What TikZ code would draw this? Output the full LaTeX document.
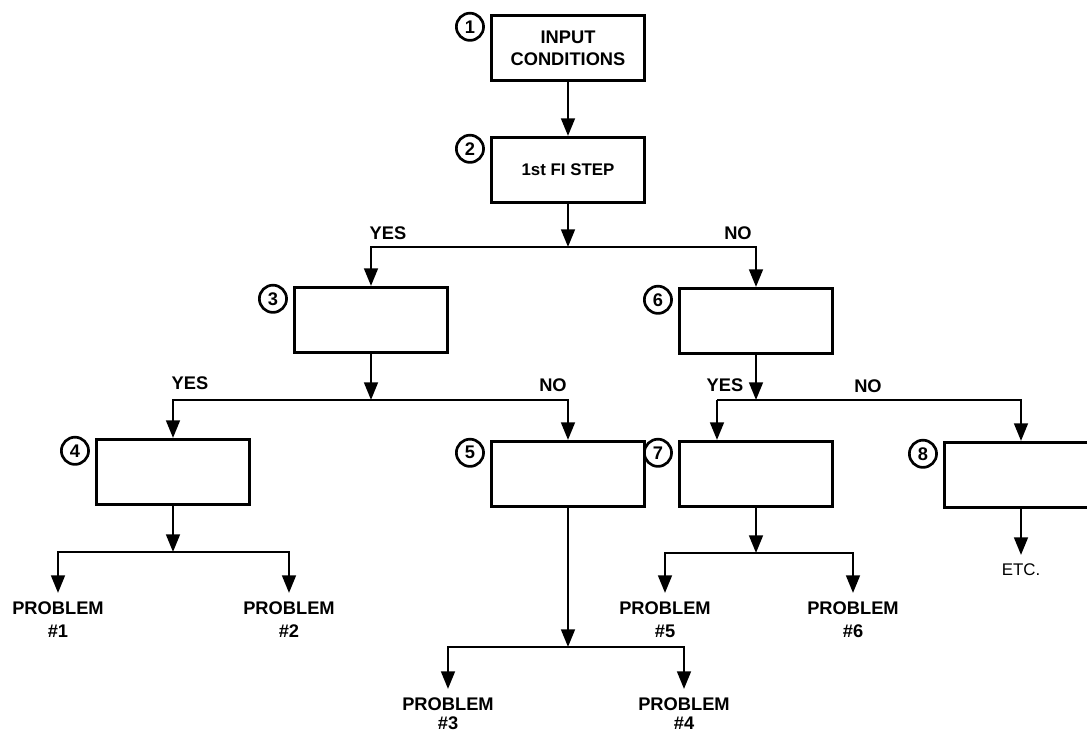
\documentclass[tikz,border=0pt]{standalone}
\usepackage{fontspec}
\setmainfont{Liberation Sans}
\usetikzlibrary{arrows.meta}
\usetikzlibrary{positioning}

\tikzset{
  fibox/.style={draw, line width=2.3pt, minimum width=3.82cm, minimum height=1.62cm, inner sep=0pt, align=center, font=\bfseries\fontsize{13}{15.6}\selectfont},
  tag/.style={draw, circle, line width=1.9pt, minimum size=0.68cm, inner sep=0pt, font=\bfseries\fontsize{13}{13}\selectfont},
  conn/.style={line width=1.9pt, -{Triangle[length=0.44cm, width=0.34cm]}},
  wire/.style={line width=1.9pt},
  lbl/.style={font=\bfseries\fontsize{13}{13}\selectfont},
  leaf/.style={align=center, anchor=north, inner xsep=0pt, inner ysep=0.2cm, font=\bfseries\fontsize{13}{17}\selectfont}
}

\begin{document}
\begin{tikzpicture}[x=0.025cm, y=-0.025cm]
\clip (0,0) rectangle (1087,733);
% boxes
\node[fibox] (b1) at (568,48) {INPUT\\CONDITIONS};
\node[fibox, font=\bfseries\fontsize{12}{13}\selectfont] (b2) at (568,170) {1st FI STEP};
\node[fibox] (b3) at (371,320) {};
\node[fibox] (b4) at (173,472) {};
\node[fibox] (b5) at (568,474) {};
\node[fibox] (b6) at (756,321) {};
\node[fibox] (b7) at (756,474) {};
\node[fibox] (b8) at (1021,475) {};
\foreach \i in {1,...,8}
  \node[tag] (c\i) at ([xshift=-0.5cm, yshift=-0.32cm]b\i.north west) {\i};

% junctions
\coordinate (j1) at (568,247);
\coordinate (j2) at (371,400);
\coordinate (j3) at (756,400);
\coordinate (j3l) at (717,400);
\coordinate (j4) at (173,552);
\coordinate (j5) at (568,647);
\coordinate (j6) at (756,553);

% end points
\node[leaf] (p1) at (58,593) {PROBLEM\\\#1};
\node[leaf] (p2) at (289,593) {PROBLEM\\\#2};
\node[leaf, font=\bfseries\fontsize{13}{14}\selectfont] (p3) at (448,689) {PROBLEM\\\#3};
\node[leaf, font=\bfseries\fontsize{13}{14}\selectfont] (p4) at (684,689) {PROBLEM\\\#4};
\node[leaf] (p5) at (665,593) {PROBLEM\\\#5};
\node[leaf] (p6) at (853,593) {PROBLEM\\\#6};
\node[leaf, font=\fontsize{12}{12}\selectfont] (etc) at (1021,555) {ETC.};

\draw[conn] (b1) -- (b2);
\draw[conn] (b2) -- (j1);
\draw[conn] (j1) -| (b3);
\draw[conn] (j1) -| (b6);
\draw[conn] (b3) -- (j2);
\draw[conn] (j2) -| (b4);
\draw[conn] (j2) -| (b5);
\draw[conn] (b6) -- (j3);
\draw[wire] (j3) -- (j3l);
\draw[conn] (j3l) -- (j3l |- b7.north);
\draw[conn] (j3) -| (b8);
\draw[conn] (b4) -- (j4);
\draw[conn] (j4) -| (p1);
\draw[conn] (j4) -| (p2);
\draw[conn] (b5) -- (j5);
\draw[conn] (j5) -| (p3);
\draw[conn] (j5) -| (p4);
\draw[conn] (b7) -- (j6);
\draw[conn] (j6) -| (p5);
\draw[conn] (j6) -| (p6);
\draw[conn] (b8) -- (etc);

% branch labels
\node[lbl] (y1) at (388,233) {YES};
\node[lbl] (n1) at (738,233) {NO};
\node[lbl] (y2) at (190,383) {YES};
\node[lbl] (n2) at (553,385) {NO};
\node[lbl] (y3) at (725,385) {YES};
\node[lbl] (n3) at (868,386) {NO};
\end{tikzpicture}
\end{document}
